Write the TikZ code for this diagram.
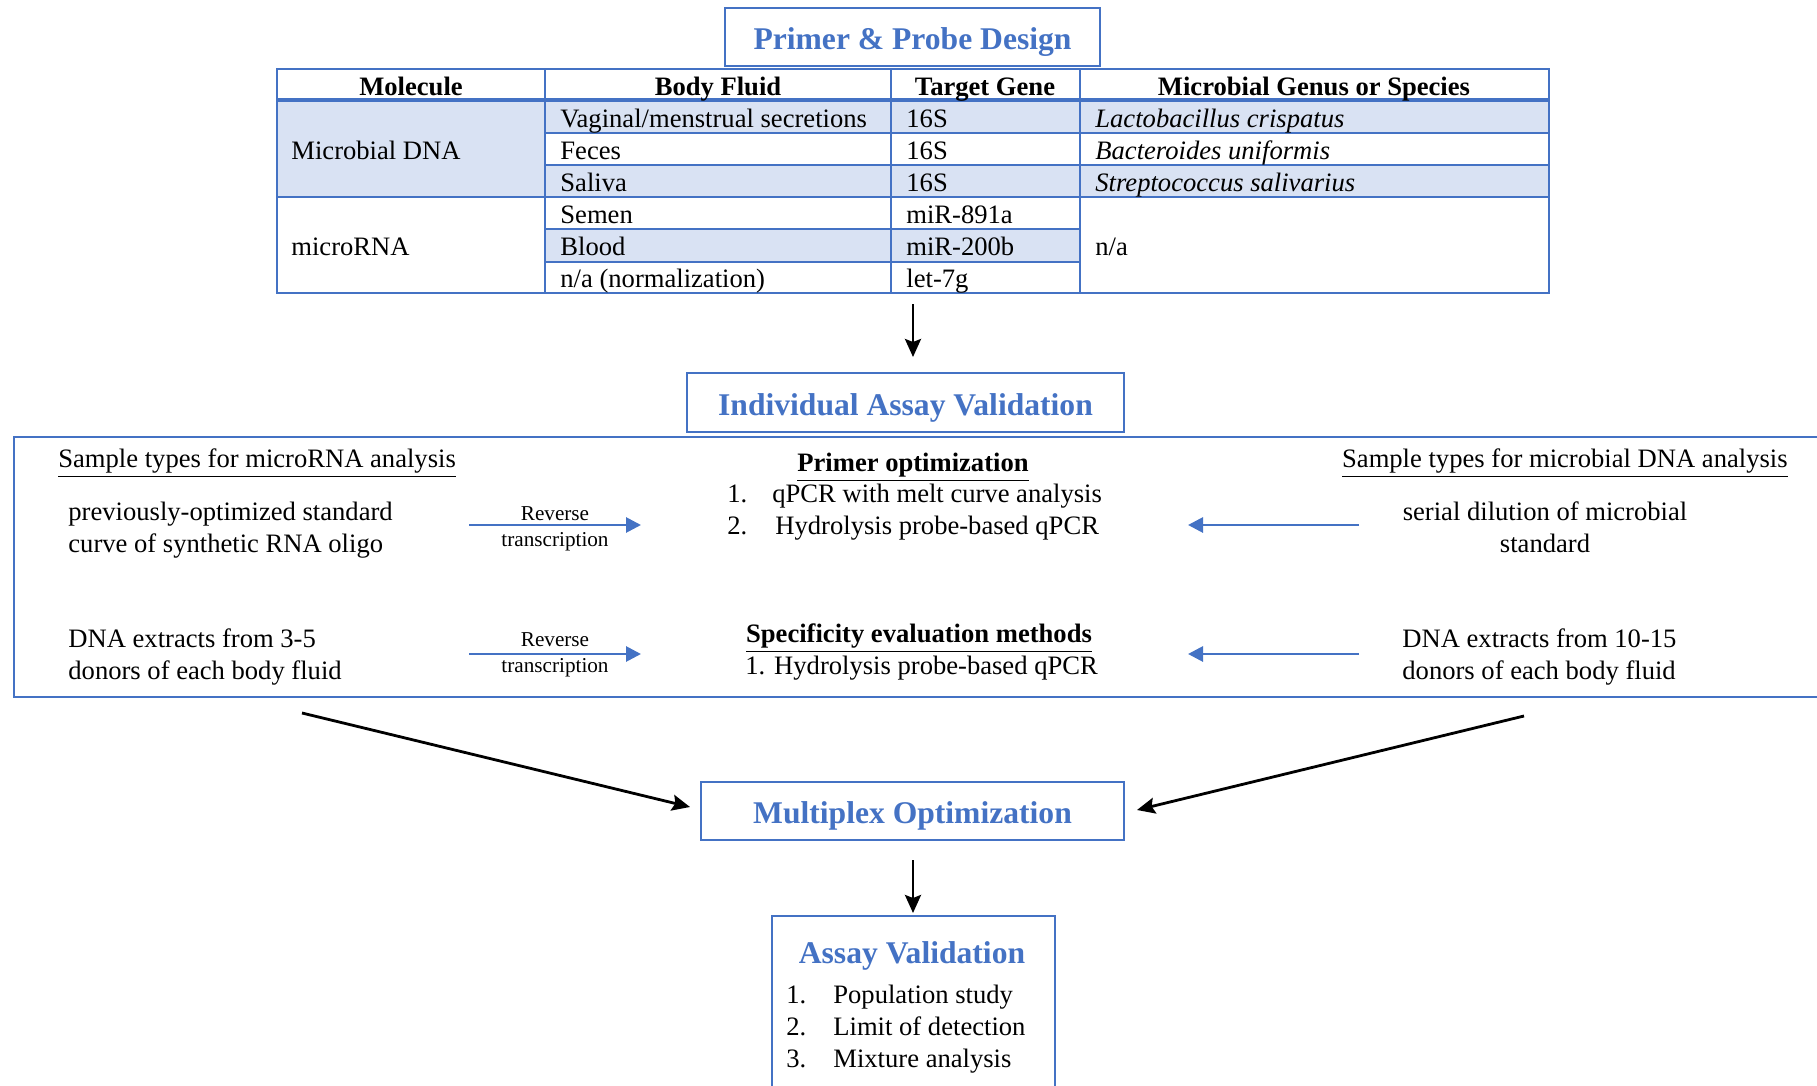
\documentclass[tikz,border=0pt]{standalone}
\usepackage{fontspec}
\setmainfont{Liberation Serif}
\usetikzlibrary{arrows.meta}
\definecolor{oblue}{HTML}{4472C4}
\definecolor{lblue}{HTML}{D9E2F3}
\begin{document}
\begin{tikzpicture}[x=0.5pt,y=-0.5pt,
  txt/.style={inner sep=0pt, font=\fontsize{13.3}{16.2}\selectfont},
  hdr/.style={inner sep=0pt, font=\fontsize{13.3}{16.2}\selectfont\bfseries},
  small/.style={inner sep=0pt, font=\fontsize{10.6}{12}\selectfont},
  ttl/.style={inner sep=0pt, text=oblue, font=\fontsize{15.8}{19}\selectfont\bfseries},
  bbox/.style={draw=oblue, line width=1pt, inner sep=0pt},
  tline/.style={draw=oblue, line width=1.2pt},
  blk/.style={draw=black, line width=1.4pt, -{Stealth[length=9pt,width=8pt,inset=1.5pt]}},
  blu/.style={draw=oblue, line width=1.4pt, -{Triangle[length=7.5pt,width=7.5pt]}}]
\useasboundingbox (0,0) rectangle (1817,1086);
\clip (0,0) rectangle (1817,1086);
\fill[white] (0,0) rectangle (1817,1086);

% ---------- Primer & Probe Design ----------
\node[bbox, minimum width=187.5pt, minimum height=29pt] (ppd) at (912.5,37) {};
\node[ttl, anchor=mid] (ppdt) at (912.5,45) {Primer \& Probe Design};

% ---------- table ----------
\fill[lblue] (277,101) rectangle (545,197);
\fill[lblue] (545,101) rectangle (1549,133);
\fill[lblue] (545,165) rectangle (1549,197);
\fill[lblue] (545,229) rectangle (1080,262);
\draw[tline] (545,133) -- (1549,133);
\draw[tline] (545,165) -- (1549,165);
\draw[tline] (277,197) -- (1549,197);
\draw[tline] (545,229) -- (1080,229);
\draw[tline] (545,262) -- (1080,262);
\draw[tline] (545,69) -- (545,293);
\draw[tline] (891,69) -- (891,293);
\draw[tline] (1080,69) -- (1080,293);
\draw[draw=oblue, line width=2.2pt] (277,100) -- (1549,100);
\draw[tline] (277,69) rectangle (1549,293);

\node[hdr, anchor=mid] (h1) at (411,91) {Molecule};
\node[hdr, anchor=mid] (h2) at (718,91) {Body Fluid};
\node[hdr, anchor=mid] (h3) at (985,91) {Target Gene};
\node[hdr, anchor=mid] (h4) at (1314,91) {Microbial Genus or Species};

\node[txt, anchor=mid west] (m1) at (291,155) {Microbial DNA};
\node[txt, anchor=mid west] (m2) at (291,251) {microRNA};

\node[txt, anchor=mid west] (b1) at (560,123) {Vaginal/menstrual secretions};
\node[txt, anchor=mid west] (b2) at (560,155) {Feces};
\node[txt, anchor=mid west] (b3) at (560,187) {Saliva};
\node[txt, anchor=mid west] (b4) at (560,219) {Semen};
\node[txt, anchor=mid west] (b5) at (560,251) {Blood};
\node[txt, anchor=mid west] (b6) at (560,283) {n/a (normalization)};

\node[txt, anchor=mid west] (g1) at (906,123) {16S};
\node[txt, anchor=mid west] (g2) at (906,155) {16S};
\node[txt, anchor=mid west] (g3) at (906,187) {16S};
\node[txt, anchor=mid west] (g4) at (906,219) {miR-891a};
\node[txt, anchor=mid west] (g5) at (906,251) {miR-200b};
\node[txt, anchor=mid west] (g6) at (906,283) {let-7g};

\node[txt, anchor=mid west] (s1) at (1095,123) {\itshape Lactobacillus crispatus};
\node[txt, anchor=mid west] (s2) at (1095,155) {\itshape Bacteroides uniformis};
\node[txt, anchor=mid west] (s3) at (1095,187) {\itshape Streptococcus salivarius};
\node[txt, anchor=mid west] (s4) at (1095,251) {n/a};

% ---------- Individual Assay Validation ----------
\coordinate (a1s) at (913,304);
\coordinate (a1e) at (913,357);
\draw[blk] (a1s) -- (a1e);
\node[bbox, minimum width=218.5pt, minimum height=29.5pt] (iav) at (905.5,402.5) {};
\node[ttl, anchor=mid] (iavt) at (905.5,411) {Individual Assay Validation};

\node[bbox, minimum width=908.5pt, minimum height=130pt, anchor=north west] (big) at (13,436) {};

\node[txt, anchor=mid west] (lh) at (58,463) {\underline{Sample types for microRNA analysis}};
\node[txt, anchor=mid east] (rh) at (1788,463) {\underline{Sample types for microbial DNA analysis}};

\node[hdr, anchor=mid] (po) at (913,467) {\underline{Primer optimization}};
\node[txt, anchor=mid west] (po1n) at (727,498) {1.};
\node[txt, anchor=mid west] (po1) at (772,498) {qPCR with melt curve analysis};
\node[txt, anchor=mid west] (po2n) at (727,530) {2.};
\node[txt, anchor=mid west] (po2) at (775,530) {Hydrolysis probe-based qPCR};

\node[txt, align=left, anchor=west] (l1) at (68,530) {previously-optimized standard\\curve of synthetic RNA oligo};
\node[txt, align=center, anchor=center] (r1) at (1545,527) {serial dilution of microbial\\standard};

\coordinate (bl1s) at (469,525);
\coordinate (bl1e) at (641,525);
\draw[blu] (bl1s) -- (bl1e);
\node[small, anchor=mid] (rt1a) at (555,516) {Reverse};
\node[small, anchor=mid] (rt1b) at (555,542) {transcription};
\coordinate (br1s) at (1359,525);
\coordinate (br1e) at (1188,525);
\draw[blu] (br1s) -- (br1e);

\node[hdr, anchor=mid] (sp) at (919,638) {\underline{Specificity evaluation methods}};
\node[txt, anchor=mid west] (sp1) at (745,670) {1. Hydrolysis probe-based qPCR};

\node[txt, align=left, anchor=west] (l2) at (68,657) {DNA extracts from 3-5\\donors of each body fluid};
\node[txt, align=left, anchor=west] (r2) at (1402,657) {DNA extracts from 10-15\\donors of each body fluid};

\coordinate (bl2s) at (469,654);
\coordinate (bl2e) at (641,654);
\draw[blu] (bl2s) -- (bl2e);
\node[small, anchor=mid] (rt2a) at (555,642) {Reverse};
\node[small, anchor=mid] (rt2b) at (555,668) {transcription};
\coordinate (br2s) at (1359,654);
\coordinate (br2e) at (1188,654);
\draw[blu] (br2s) -- (br2e);

% ---------- Multiplex Optimization ----------
\node[bbox, minimum width=211.5pt, minimum height=29pt] (mpo) at (912.5,811) {};
\node[ttl, anchor=mid] (mpot) at (912.5,819) {Multiplex Optimization};
\coordinate (k1) at (302,713);
\coordinate (k1e) at (690,807);
\coordinate (k2) at (1524,716);
\coordinate (k2e) at (1137,810);
\draw[blk] (k1) -- (k1e);
\draw[blk] (k2) -- (k2e);

% ---------- Assay Validation ----------
\coordinate (a2s) at (913,860);
\coordinate (a2e) at (913,913);
\draw[blk] (a2s) -- (a2e);
\node[bbox, minimum width=141.5pt, minimum height=92.5pt, anchor=north west] (av) at (771,915) {};
\node[ttl, anchor=mid] (avt) at (912,959) {Assay Validation};
\node[txt, anchor=mid west] (av1n) at (786,999) {1.};
\node[txt, anchor=mid west] (av1) at (833,999) {Population study};
\node[txt, anchor=mid west] (av2n) at (786,1031) {2.};
\node[txt, anchor=mid west] (av2) at (833,1031) {Limit of detection};
\node[txt, anchor=mid west] (av3n) at (786,1063) {3.};
\node[txt, anchor=mid west] (av3) at (833,1063) {Mixture analysis};
\end{tikzpicture}
\end{document}
